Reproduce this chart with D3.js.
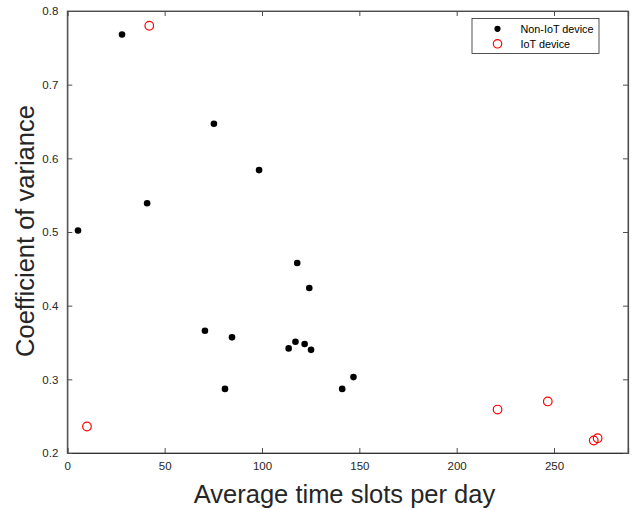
<!DOCTYPE html>
<html><head><meta charset="utf-8">
<script src="https://cdn.jsdelivr.net/npm/d3@7"></script>
<style>body{margin:0;background:#fff}svg{display:block}</style>
</head><body><svg id="c" width="643" height="510"></svg>
<script>
const nonIoTX = [28.1, 5.5, 41.0, 75.3, 98.5, 70.7, 84.6, 81.0, 118.1, 124.3, 113.7, 117.2, 121.9, 125.2, 141.2, 147.0];
const nonIoTY = [0.768, 0.502, 0.539, 0.647, 0.584, 0.366, 0.357, 0.287, 0.458, 0.424, 0.342, 0.351, 0.348, 0.340, 0.287, 0.303];
const iotX = [42.1, 10.1, 221.0, 246.8, 270.4, 272.4];
const iotY = [0.780, 0.236, 0.259, 0.270, 0.217, 0.220];
const xTicks = [0, 50, 100, 150, 200, 250];
const yTicks = [0.2, 0.3, 0.4, 0.5, 0.6, 0.7, 0.8];
const legendLabels = ["Non-IoT device", "IoT device"];
const xLabel = "Average time slots per day";
const yLabel = "Coefficient of variance";

const svg = d3.select("#c");
const L = 67.3, R = 628, T = 11, B = 453;
const x = d3.scaleLinear().domain([0, 288]).range([L, R]);
const y = d3.scaleLinear().domain([0.2, 0.8]).range([B, T]);
const font = "'Liberation Sans', Arial, Helvetica, sans-serif";
const axCol = "#4d4d4d";

// box
svg.append("rect").attr("x", L).attr("y", T).attr("width", R - L).attr("height", B - T)
  .attr("fill", "none").attr("stroke", "#7f7f7f").attr("stroke-width", 1.2);

const xb = svg.append("g").attr("transform", `translate(0,${B})`)
  .call(d3.axisBottom(x).tickValues(xTicks).tickSize(-5).tickPadding(9).tickFormat(d3.format("d")));
const xt = svg.append("g").attr("transform", `translate(0,${T})`)
  .call(d3.axisTop(x).tickValues(xTicks).tickSize(-5).tickFormat(""));
const yl = svg.append("g").attr("transform", `translate(${L},0)`)
  .call(d3.axisLeft(y).tickValues(yTicks).tickSize(-5).tickPadding(9).tickFormat(d3.format(".1f")));
const yr = svg.append("g").attr("transform", `translate(${R},0)`)
  .call(d3.axisRight(y).tickValues(yTicks).tickSize(-5).tickFormat(""));
[xb, xt, yl, yr].forEach(g => {
  g.select(".domain").attr("stroke", axCol).attr("stroke-width", 1.2);
  g.selectAll(".tick line").attr("stroke", axCol).attr("stroke-width", 1);
  g.selectAll("text").attr("font-family", font).attr("font-size", 11.5).attr("fill", "#262626");
});
xb.select(".domain").attr("stroke", "#333");

// labels
svg.append("text").attr("x", 344.5).attr("y", 503).attr("text-anchor", "middle")
  .attr("font-family", font).attr("font-size", 25.5).attr("fill", "#262626").text(xLabel);
svg.append("text").attr("transform", `translate(33.5,231) rotate(-90)`).attr("text-anchor", "middle")
  .attr("font-family", font).attr("font-size", 25.5).attr("fill", "#262626").text(yLabel);

// points
svg.append("g").selectAll("circle").data(d3.range(nonIoTX.length)).join("circle")
  .attr("cx", i => x(nonIoTX[i])).attr("cy", i => y(nonIoTY[i])).attr("r", 3.3).attr("fill", "#000");
svg.append("g").selectAll("circle").data(d3.range(iotX.length)).join("circle")
  .attr("cx", i => x(iotX[i])).attr("cy", i => y(iotY[i])).attr("r", 4.3)
  .attr("fill", "none").attr("stroke", "#ff0000").attr("stroke-width", 1.2);

// legend
const lg = svg.append("g");
lg.append("rect").attr("x", 472).attr("y", 18.5).attr("width", 127).attr("height", 35)
  .attr("fill", "#fff").attr("stroke", "#262626").attr("stroke-width", 0.8);
lg.append("circle").attr("cx", 497.5).attr("cy", 28.8).attr("r", 3.1).attr("fill", "#000");
lg.append("circle").attr("cx", 497.5).attr("cy", 43.8).attr("r", 4.2).attr("fill", "none")
  .attr("stroke", "#ff0000").attr("stroke-width", 1.2);
legendLabels.forEach((t, i) => {
  lg.append("text").attr("x", 520.5).attr("y", 32.5 + i * 15).attr("font-family", font)
    .attr("font-size", 10.8).attr("fill", "#000").text(t);
});
</script></body></html>
